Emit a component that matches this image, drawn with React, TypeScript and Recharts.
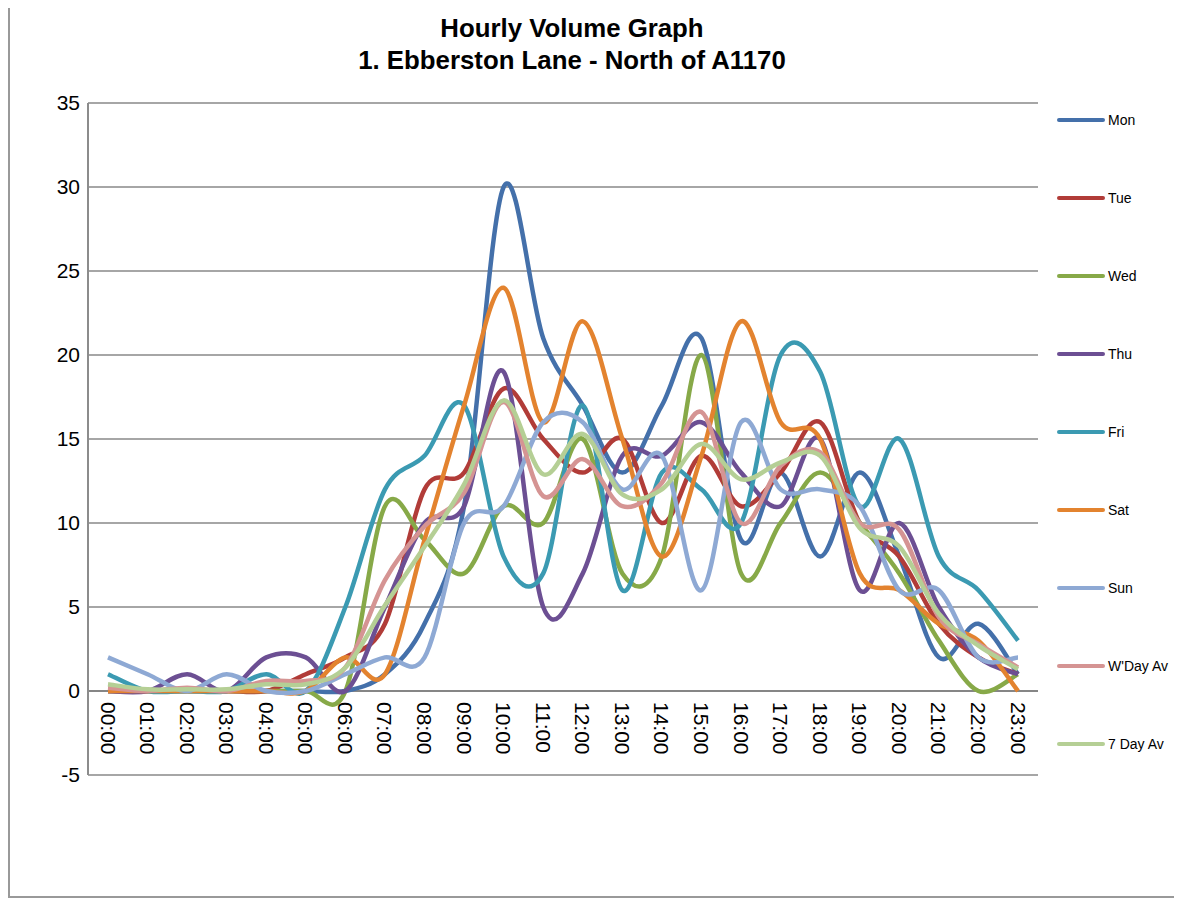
import { LineChart, Line, XAxis, YAxis, CartesianGrid, ReferenceLine } from 'recharts';

const hours = [
  '00:00', '01:00', '02:00', '03:00', '04:00', '05:00', '06:00', '07:00',
  '08:00', '09:00', '10:00', '11:00', '12:00', '13:00', '14:00', '15:00',
  '16:00', '17:00', '18:00', '19:00', '20:00', '21:00', '22:00', '23:00',
];

const mon = [0, 0, 0, 0, 0, 0, 0, 1, 4, 11, 30, 21, 17, 13, 17, 21, 9, 13, 8, 13, 8, 2, 4, 1];
const tue = [0, 0, 0, 0, 0, 1, 2, 4, 12, 13, 18, 15, 13, 15, 10, 14, 11, 13, 16, 10, 8, 4, 2, 1];
const wed = [0, 0, 0, 0, 0, 0, 0, 11, 9, 7, 11, 10, 15, 7, 8, 20, 7, 10, 13, 10, 7, 3, 0, 1];
const thu = [0, 0, 1, 0, 2, 2, 0, 5, 10, 11, 19, 5, 7, 14, 14, 16, 13, 11, 15, 6, 10, 5, 2, 1];
const fri = [1, 0, 0, 0, 1, 0, 5, 12, 14, 17, 8, 7, 17, 6, 13, 12, 10, 20, 19, 11, 15, 8, 6, 3];
const sat = [0, 0, 0, 0, 0, 0, 2, 1, 9, 17, 24, 16, 22, 15, 8, 14, 22, 16, 15, 7, 6, 4, 3, 0];
const sun = [2, 1, 0, 1, 0, 0, 1, 2, 2, 10, 11, 16, 16, 12, 14, 6, 16, 12, 12, 11, 6, 6, 2, 2];
const wdayAv = [0.2, 0, 0.2, 0, 0.6, 0.6, 1.4, 6.6, 9.8, 11.8, 17.2, 11.6, 13.8, 11, 12.4, 16.6, 10, 13.4, 14.2, 10, 9.6, 4.4, 2.8, 1.4];
const sevenDayAv = [0.4, 0.1, 0.1, 0.1, 0.4, 0.4, 1.4, 5.1, 8.6, 12.3, 17.3, 12.9, 15.3, 11.7, 12, 14.7, 12.6, 13.6, 14, 9.7, 8.6, 4.6, 2.7, 1.3];

const yTicks = [-5, 0, 5, 10, 15, 20, 25, 30, 35];

const series = [
  { key: 'Mon', values: mon, color: '#4470AA' },
  { key: 'Tue', values: tue, color: '#B13C38' },
  { key: 'Wed', values: wed, color: '#87A948' },
  { key: 'Thu', values: thu, color: '#6C4F93' },
  { key: 'Fri', values: fri, color: '#3B9AB2' },
  { key: 'Sat', values: sat, color: '#E3832F' },
  { key: 'Sun', values: sun, color: '#8EA9D4' },
  { key: "W'Day Av", values: wdayAv, color: '#D59493' },
  { key: '7 Day Av', values: sevenDayAv, color: '#B5CF95' },
];

const rows = hours.map((hour, i) => {
  const row: Record<string, string | number> = { hour };
  series.forEach((s) => { row[s.key] = s.values[i]; });
  return row;
});

// smoothed line like the spreadsheet one (catmull-rom through every point)
const smoothCurve = (context: any) => {
  let pts: number[][] = [];
  return {
    areaStart() {},
    areaEnd() {},
    lineStart() { pts = []; },
    point(x: number, y: number) { pts.push([+x, +y]); },
    lineEnd() {
      if (!pts.length) return;
      context.moveTo(pts[0][0], pts[0][1]);
      for (let i = 0; i < pts.length - 1; i++) {
        const p0 = pts[i - 1] || pts[i];
        const p1 = pts[i];
        const p2 = pts[i + 1];
        const p3 = pts[i + 2] || p2;
        context.bezierCurveTo(
          p1[0] + (p2[0] - p0[0]) / 6, p1[1] + (p2[1] - p0[1]) / 6,
          p2[0] - (p3[0] - p1[0]) / 6, p2[1] - (p3[1] - p1[1]) / 6,
          p2[0], p2[1],
        );
      }
    },
  };
};

const FONT = '"Liberation Sans", Arial, sans-serif';
const ZERO_Y = 691;

const HourTick = ({ x, payload }: any) => (
  <g>
    <text
      x={x}
      y={ZERO_Y + 11}
      transform={`rotate(90, ${x}, ${ZERO_Y + 11})`}
      textAnchor="start"
      dominantBaseline="central"
      fontSize={21}
      fontFamily={FONT}
      fill="#000"
    >
      {payload.value}
    </text>
  </g>
);

export default function App() {
  return (
    <div style={{ position: 'relative', margin: '-8px 0 0 -8px', width: 1182, height: 898, background: '#fff', fontFamily: FONT }}>
      <div style={{ position: 'absolute', left: 0, top: 0, width: 3, height: 771, background: '#000' }} />
      <div style={{ position: 'absolute', left: 0, top: 796, width: 3, height: 102, background: '#000' }} />
      <div style={{ position: 'absolute', left: 8, top: 2, width: 1166, height: 892, border: '2px solid #999' }} />
      <div style={{ position: 'absolute', left: 272, width: 600, top: 12, textAlign: 'center', fontWeight: 'bold', fontSize: 25.8, lineHeight: '32px', color: '#000' }}>
        <div>Hourly Volume Graph</div>
        <div>1. Ebberston Lane - North of A1170</div>
      </div>
      <LineChart
        width={1182}
        height={898}
        data={rows}
        margin={{ top: 103, right: 144, bottom: 93, left: 28 }}
        style={{ position: 'absolute', left: 0, top: 0 }}
      >
        <CartesianGrid vertical={false} stroke="#A6A6A6" strokeWidth={2} />
        <XAxis
          dataKey="hour"
          axisLine={false}
          tickLine={false}
          interval={0}
          height={30}
          padding={{ left: 20, right: 20 }}
          tick={<HourTick />}
        />
        <YAxis
          domain={[-5, 35]}
          ticks={yTicks}
          width={60}
          tickLine={false}
          axisLine={{ stroke: '#8C8C8C', strokeWidth: 2 }}
          tick={{ fontSize: 21, fill: '#000', fontFamily: FONT }}
        />
        <ReferenceLine y={0} stroke="#868686" strokeWidth={2} />
        {series.map((s) => (
          <Line
            key={s.key}
            dataKey={s.key}
            type={smoothCurve as any}
            stroke={s.color}
            strokeWidth={4.5}
            dot={false}
            isAnimationActive={false}
          />
        ))}
      </LineChart>
      {series.map((s, i) => (
        <div
          key={s.key}
          style={{ position: 'absolute', left: 1057, top: 110 + i * 78, height: 20, display: 'flex', alignItems: 'center' }}
        >
          <div style={{ width: 48, height: 4, borderRadius: 2, background: s.color }} />
          <span style={{ fontSize: 14, marginLeft: 3, color: '#000' }}>{s.key}</span>
        </div>
      ))}
    </div>
  );
}
